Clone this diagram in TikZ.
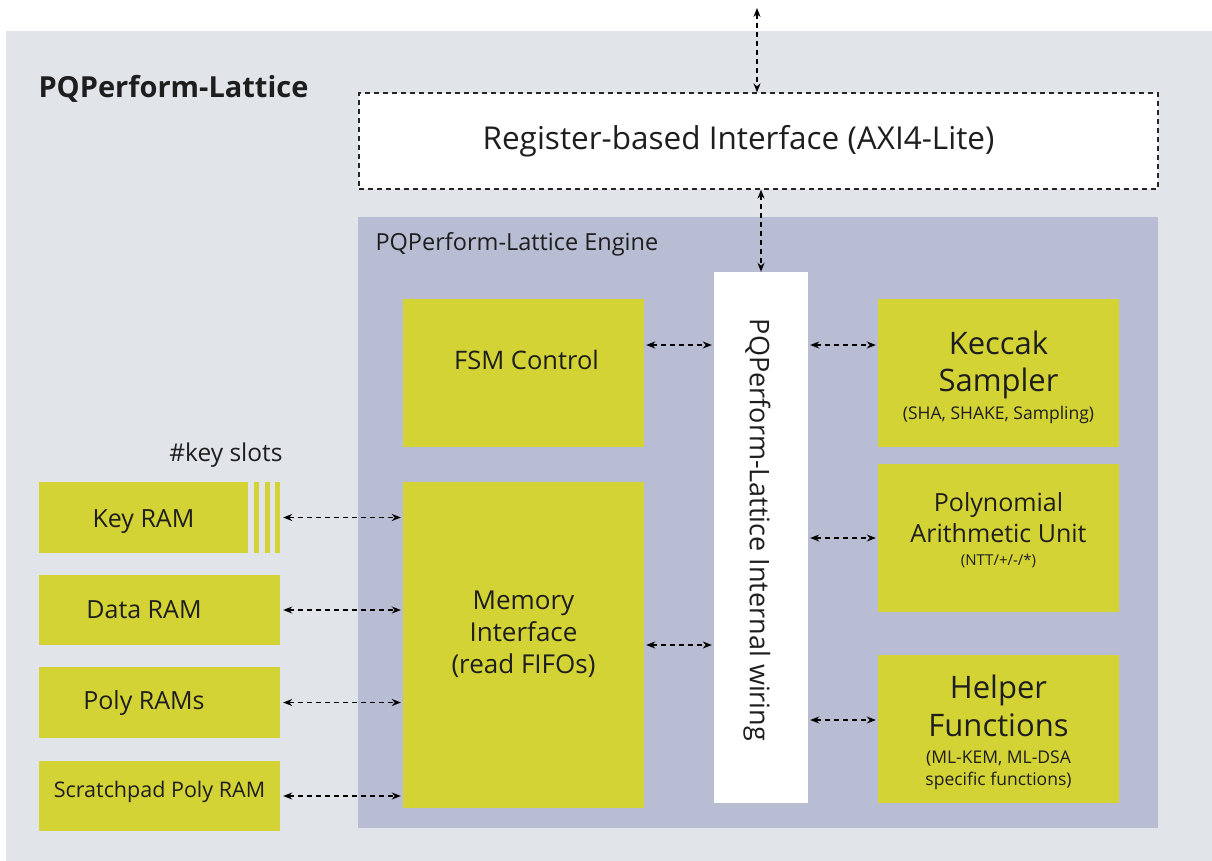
\documentclass[tikz,border=0pt]{standalone}
\usepackage{fontspec}
\setmainfont{Open Sans}
\usetikzlibrary{arrows.meta}
\definecolor{outerbg}{HTML}{E1E5EA}
\definecolor{enginebg}{HTML}{B9BDD3}
\definecolor{blockyellow}{HTML}{D4D335}
\definecolor{txt}{HTML}{1E1E1E}
\newcommand{\tline}[3]{\fontsize{#1}{#2}\selectfont\strut #3}
\newcommand{\shiftup}[2]{\raisebox{#1}[\height][\depth]{#2}}
\tikzset{
  blk/.style={rectangle, fill=blockyellow, draw=none, inner sep=0pt, text=txt, align=center},
  conn/.style={line width=1.3pt, dash pattern=on 5pt off 4pt, {Stealth[length=9pt,width=7pt]}-{Stealth[length=9pt,width=7pt]}},
  fs/.style={font=\fontsize{#1}{#1}\selectfont}
}
\begin{document}
\begin{tikzpicture}[x=1pt,y=-1pt]
\useasboundingbox (0,0) rectangle (1212,861);
% outer background
\node[rectangle, fill=outerbg, minimum width=1206pt, minimum height=830pt, inner sep=0pt, anchor=north west] (outer) at (6,31) {};
\node[anchor=west, text=txt, font=\bfseries\fontsize{29}{34}\selectfont] (title) at (35,89) {PQPerform-Lattice};
% register interface
\node[rectangle, fill=white, draw=black!85, line width=1.3pt, dash pattern=on 5pt off 4pt, minimum width=799pt, minimum height=96pt, inner sep=0pt, text=txt, fs=31.5] (reg) at (758.5,141) {\hspace*{-40pt}Register-based Interface (AXI4-Lite)};
% engine
\node[rectangle, fill=enginebg, minimum width=800pt, minimum height=611pt, inner sep=0pt] (engine) at (758,522.5) {};
\node[anchor=west, text=txt, fs=23.5] (englabel) at (372,244) {PQPerform-Lattice Engine};
% internal wiring
\node[rectangle, fill=white, minimum width=94pt, minimum height=531pt, inner sep=0pt] (wiring) at (761,537.5) {};
\node[rotate=-90, text=txt, fs=27] (wiringlabel) at (757,530) {PQPerform-Lattice Internal wiring};
% blocks
\node[blk, minimum width=241pt, minimum height=148pt, fs=25.5] (fsm) at (523.5,373) {\hspace*{6pt}\shiftup{13pt}{FSM Control}};
\node[blk, minimum width=241pt, minimum height=326pt, fs=8] (mem) at (523.5,645)
  {\shiftup{10pt}{\begin{tabular}{@{}c@{}}\tline{26}{32}{Memory}\\\tline{26}{32}{Interface}\\\tline{26}{32}{(read FIFOs)}\end{tabular}}};
\node[blk, minimum width=241pt, minimum height=148pt, fs=8] (keccak) at (998.5,373)
  {\shiftup{-5pt}{\begin{tabular}{@{}c@{}}\tline{31}{37}{Keccak}\\\tline{31}{37}{Sampler}\\\tline{17.5}{24}{(SHA, SHAKE, Sampling)}\end{tabular}}};
\node[blk, minimum width=241pt, minimum height=148pt, fs=8] (poly) at (998.5,538)
  {\shiftup{7pt}{\begin{tabular}{@{}c@{}}\tline{25}{31}{Polynomial}\\\tline{25}{31}{Arithmetic Unit}\\\tline{15}{19.6}{(NTT/+/-/*)}\end{tabular}}};
\node[blk, minimum width=241pt, minimum height=148pt, fs=8] (helper) at (998.5,729)
  {\shiftup{-3pt}{\begin{tabular}{@{}c@{}}\tline{31}{38}{Helper}\\\tline{31}{38}{Functions}\\\tline{17.5}{22}{(ML-KEM, ML-DSA}\\\tline{17.5}{21.5}{specific functions)}\end{tabular}}};
% RAMs
\node[blk, minimum width=209pt, minimum height=71pt, fs=25] (keyram) at (143.5,517.5) {\shiftup{-4pt}{Key RAM}};
\fill[blockyellow] (254,482) rectangle (259,553);
\fill[blockyellow] (265,482) rectangle (270,553);
\fill[blockyellow] (275,482) rectangle (280,553);
\node[rectangle, minimum width=26pt, minimum height=71pt, inner sep=0pt] (slots) at (267,517.5) {};
\node[text=txt, fs=24.5] (slotlabel) at (226,455) {\#key slots};
\node[blk, minimum width=241pt, minimum height=70pt] (data) at (159.5,610) {};
\node[text=txt, fs=25] (datalabel) at (144,610) {Data RAM};
\node[blk, minimum width=241pt, minimum height=71pt] (polyram) at (159.5,702.5) {};
\node[text=txt, fs=25] (polyramlabel) at (144,703) {Poly RAMs};
\node[blk, minimum width=241pt, minimum height=70pt, fs=21.5] (scratch) at (159.5,796) {\shiftup{4pt}{Scratchpad Poly RAM}};
% connectors
\coordinate (ext) at (757,8);
\draw[conn] (ext) -- (ext |- reg.north);
\draw[conn] (reg.south -| wiring.north) -- (wiring.north);
\draw[conn] ([xshift=2pt,yshift=28pt]fsm.east) -- ([xshift=-2pt,yshift=28pt]fsm.east -| wiring.west);
\draw[conn] ([xshift=2pt,yshift=28pt]keccak.west -| wiring.east) -- ([xshift=-2pt,yshift=28pt]keccak.west);
\draw[conn] ([xshift=2pt]poly.west -| wiring.east) -- ([xshift=-2pt]poly.west);
\draw[conn] ([xshift=2pt,yshift=9pt]helper.west -| wiring.east) -- ([xshift=-2pt,yshift=9pt]helper.west);
\draw[conn] ([xshift=2pt]mem.east) -- ([xshift=-2pt]mem.east -| wiring.west);
\draw[conn] ([xshift=3pt]slots.east) -- ([xshift=-2pt]slots.east -| mem.west);
\draw[conn] ([xshift=3pt]data.east) -- ([xshift=-2pt]data.east -| mem.west);
\draw[conn] ([xshift=3pt]polyram.east) -- ([xshift=-2pt]polyram.east -| mem.west);
\draw[conn] ([xshift=3pt]scratch.east) -- ([xshift=-2pt]scratch.east -| mem.west);
\end{tikzpicture}
\end{document}
